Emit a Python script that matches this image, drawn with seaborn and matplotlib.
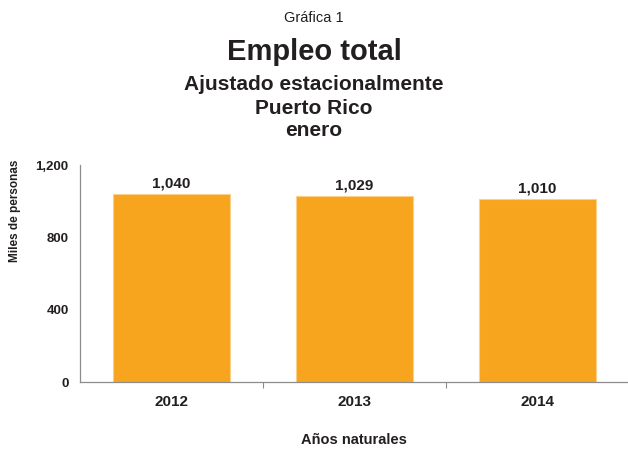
import numpy as np
import pandas as pd
import matplotlib
matplotlib.use("Agg")
import matplotlib.pyplot as plt
import seaborn as sns

# data
years = ["2012", "2013", "2014"]
employment = [1040, 1029, 1010]
y_ticks = [0, 400, 800, 1200]
y_ticklabels = ["0", "400", "800", "1,200"]

df = pd.DataFrame({"year": years, "employment": employment})

sns.set_style("white")
plt.rcParams["font.family"] = ["Liberation Sans", "DejaVu Sans"]

bar_color = "#F7A41F"
text_color = "#231F20"
axis_color = "#8C8C8C"

fig = plt.figure(figsize=(6.28, 4.5), dpi=100)
ax = fig.add_axes([0.127, 0.151, 0.874, 0.482])

sns.barplot(data=df, x="year", y="employment", color=bar_color, width=0.64,
            saturation=1, edgecolor="#FBD08A", linewidth=0.8, ax=ax)

# value labels above the bars
for i, v in enumerate(employment):
    ax.text(i, v + 22, f"{v:,}", ha="center", va="bottom",
            fontsize=11, fontweight="bold", color=text_color)

ax.set_ylim(0, 1200)
ax.set_xlim(-0.5, len(years) - 0.5)
ax.set_yticks(y_ticks)
ax.set_yticklabels(y_ticklabels, fontsize=9.5, fontweight="bold", color=text_color)
ax.tick_params(axis="y", length=0, pad=8)
ax.tick_params(axis="x", which="major", length=0, pad=9, labelsize=11)
for lbl in ax.get_xticklabels():
    lbl.set_fontweight("bold")
    lbl.set_color(text_color)

# small tick marks between categories
ax.set_xticks([0.5, 1.5], minor=True)
ax.tick_params(axis="x", which="minor", bottom=True, length=4, width=0.8,
               color=axis_color, direction="out")

sns.despine(ax=ax, top=True, right=True)
for s in ["left", "bottom"]:
    ax.spines[s].set_color(axis_color)
    ax.spines[s].set_linewidth(0.9)

ax.set_xlabel("")
ax.set_ylabel("")
fig.text(354 / 628, 1 - 440 / 450, "Años naturales", ha="center", va="center",
         fontsize=10.5, fontweight="bold", color=text_color)
fig.text(15 / 628, 1 - 211 / 450, "Miles de personas", ha="center", va="center",
         rotation=90, fontsize=8.5, fontweight="bold", color=text_color)

# titles
fig.text(0.5, 1 - 18 / 450, "Gráfica 1", ha="center", va="center", fontsize=10.5, color=text_color)
fig.text(0.5, 1 - 52 / 450, "Empleo total", ha="center", va="center", fontsize=21,
         fontweight="bold", color=text_color)
fig.text(0.5, 1 - 84 / 450, "Ajustado estacionalmente", ha="center", va="center", fontsize=15,
         fontweight="bold", color=text_color)
fig.text(0.5, 1 - 108 / 450, "Puerto Rico", ha="center", va="center", fontsize=15,
         fontweight="bold", color=text_color)
fig.text(0.5, 1 - 131 / 450, "enero", ha="center", va="center", fontsize=15,
         fontweight="bold", color=text_color)

fig.savefig("out.png", dpi=100)
